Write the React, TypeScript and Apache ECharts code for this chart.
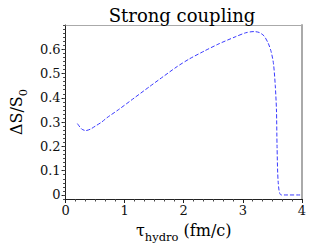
import React, { useEffect, useRef } from "react";
import * as echarts from "echarts";

const tauValues = [0.2, 0.27, 0.34, 0.42, 0.5, 0.61, 0.7, 0.9, 1.16, 1.42, 1.65, 1.89, 2.1, 2.35, 2.6, 2.87, 3.05, 3.19, 3.28, 3.36, 3.43, 3.48, 3.52, 3.55, 3.57, 3.58, 3.6, 3.65, 4.0];
const dsValues = [0.294, 0.272, 0.265, 0.271, 0.283, 0.3, 0.318, 0.352, 0.399, 0.446, 0.487, 0.529, 0.561, 0.593, 0.623, 0.651, 0.668, 0.673, 0.669, 0.655, 0.625, 0.59, 0.54, 0.45, 0.35, 0.2, 0.05, 0.0, 0.0];
const xTicks = [0, 1, 2, 3, 4];
const yTicks = [0, 0.1, 0.2, 0.3, 0.4, 0.5, 0.6];
const titleText = "Strong coupling";

const FONT = "DejaVu Serif";
const Y_MIN = -1 / 60;
const Y_MAX = 0.7;

export default function App() {
  const ref = useRef<HTMLDivElement>(null);
  useEffect(() => {
    if (!ref.current) return;
    const chart = echarts.init(ref.current, undefined, { renderer: "svg" });
    const data = tauValues.map((t, i) => [t, dsValues[i]]);
    const richName = {
      t: { fontFamily: FONT, fontSize: 16, lineHeight: 26, color: "#000" },
      s: { fontFamily: FONT, fontSize: 11.5, lineHeight: 13, verticalAlign: "bottom", color: "#000" },
    };
    chart.setOption({
      animation: false,
      backgroundColor: "#ffffff",
      textStyle: { fontFamily: FONT },
      title: {
        text: titleText,
        left: 177,
        textAlign: "center",
        top: 1,
        textStyle: { fontFamily: FONT, fontSize: 18, fontWeight: "normal", color: "#000" },
      },
      grid: { left: 49, right: 4, top: 25, bottom: 45, show: false },
      xAxis: [
        {
          type: "value",
          min: 0,
          max: 4,
          interval: 1,
          position: "bottom",
          axisLine: { show: true, onZero: false, lineStyle: { color: "#222", width: 1 } },
          axisTick: { show: true, inside: false, length: 4, lineStyle: { color: "#222" } },
          minorTick: { show: true, splitNumber: 6, length: 2.5, lineStyle: { color: "#444" } },
          splitLine: { show: false },
          axisLabel: {
            fontFamily: FONT,
            fontSize: 13,
            color: "#111",
            margin: 5,
            formatter: (v: number) => (xTicks.includes(v) ? String(v) : ""),
          },
          name: "{t|τ}{s|hydro}{t| (fm/c)}",
          nameLocation: "middle",
          nameGap: 18,
          nameTextStyle: { fontFamily: FONT, color: "#000", rich: richName },
        },
        {
          type: "value",
          min: 0,
          max: 4,
          position: "top",
          axisLine: { show: true, onZero: false, lineStyle: { color: "#aaa", width: 1 } },
          axisTick: { show: false },
          axisLabel: { show: false },
          splitLine: { show: false },
        },
      ],
      yAxis: [
        {
          type: "value",
          min: Y_MIN,
          max: Y_MAX,
          position: "left",
          axisLine: { show: true, onZero: false, lineStyle: { color: "#222", width: 1 } },
          axisTick: { show: true, inside: false, length: 4, customValues: yTicks, lineStyle: { color: "#222" } },
          splitLine: { show: false },
          axisLabel: {
            fontFamily: FONT,
            fontSize: 13,
            color: "#111",
            margin: 5,
            customValues: yTicks,
            formatter: (v: number) => (Math.abs(v) < 1e-9 ? "0" : v.toFixed(1)),
          },
          name: "{t|ΔS/S}{s|0}",
          nameLocation: "middle",
          nameGap: 34,
          nameRotate: 90,
          nameTextStyle: { fontFamily: FONT, color: "#000", rich: richName },
        },
        {
          type: "value",
          min: Y_MIN,
          max: Y_MAX,
          position: "right",
          axisLine: { show: true, onZero: false, lineStyle: { color: "#aaa", width: 2 } },
          axisTick: { show: false },
          axisLabel: { show: false },
          splitLine: { show: false },
        },
        {
          type: "value",
          min: Y_MIN,
          max: Y_MAX,
          interval: 1 / 60,
          position: "left",
          axisLine: { show: false },
          axisTick: { show: true, inside: false, length: 2.5, lineStyle: { color: "#444" } },
          axisLabel: { show: false },
          splitLine: { show: false },
        },
      ],
      series: [
        {
          type: "line",
          data,
          xAxisIndex: 0,
          yAxisIndex: 0,
          showSymbol: false,
          smooth: 0.25,
          lineStyle: { color: "#3a3aff", width: 1, type: [4, 2] },
        },
      ],
    });
    return () => chart.dispose();
  }, []);
  return <div ref={ref} style={{ width: 309, height: 248, position: "absolute", left: 0, top: 0 }} />;
}
